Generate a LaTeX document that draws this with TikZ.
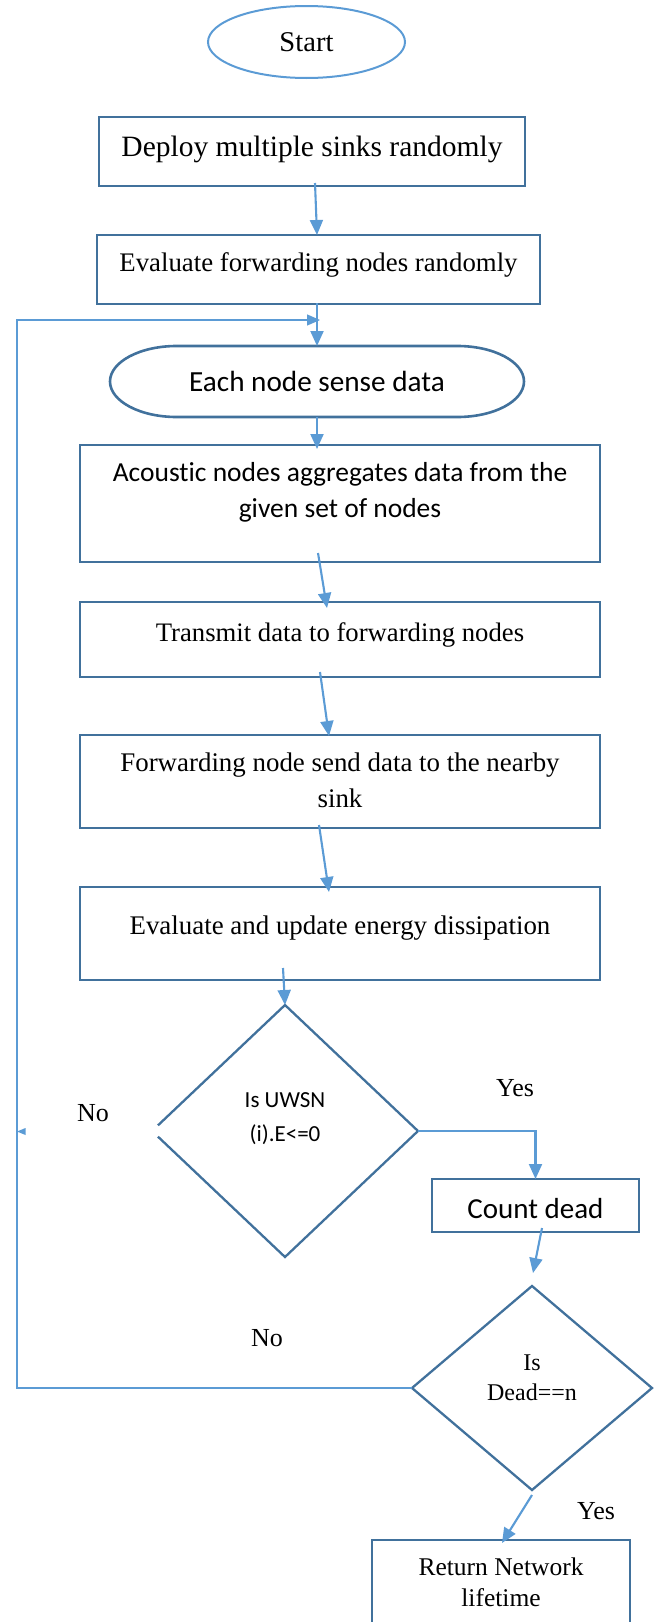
\documentclass[tikz,border=0pt]{standalone}
\usepackage{fontspec}
\setmainfont{Liberation Serif}
\newfontfamily\calfont[Ligatures={NoCommon}]{Carlito}
\usetikzlibrary{arrows.meta,shapes.geometric,calc}
\definecolor{boxblue}{HTML}{41719C}
\definecolor{arrblue}{HTML}{5B9BD5}
\tikzset{
  box/.style={draw=boxblue, line width=2.8pt, inner sep=0pt, outer sep=0pt, align=flush center},
  plainshape/.style={inner sep=0pt, outer sep=0pt, align=flush center},
  outline/.style={draw=boxblue, line width=2.6pt, line join=miter},
  dline/.style={draw=boxblue, line width=2.3pt, line join=miter},
  arr/.style={draw=arrblue, line width=2.1pt, -{Triangle[length=15pt,width=13pt]}},
  thinarr/.style={draw=arrblue, line width=1.3pt, -{Triangle[length=13pt,width=11pt]}},
  lbl/.style={anchor=base, inner sep=0pt, font=\fontsize{26}{30}\selectfont},
}
\begin{document}
\begin{tikzpicture}[x=1pt,y=-1pt]
\useasboundingbox (0,0) rectangle (661,1622);
\clip (0,0) rectangle (661,1622);

% nodes
\node[ellipse, draw=arrblue, line width=2pt, inner sep=0pt, outer sep=0pt,
      minimum width=197, minimum height=72, text height=18.8pt, text depth=0pt,
      font=\fontsize{28.6}{34}\selectfont] (start) at (306.5,42) {Start};

\node[box, minimum width=426, minimum height=69, text height=10.4pt, text depth=0pt,
      font=\fontsize{29.5}{35}\selectfont] (deploy) at (312,151.5) {Deploy multiple sinks randomly};

\node[box, minimum width=443, minimum height=69, text height=4.4pt, text depth=0pt,
      font=\fontsize{26.8}{32}\selectfont] (evalf) at (318.5,269.5) {Evaluate forwarding nodes randomly};

\node[plainshape, minimum width=414, minimum height=71, text height=20.4pt, text depth=0pt,
      font=\calfont\fontsize{29.2}{35}\selectfont] (each) at (317,381.5) {Each node sense data};
\draw[outline] ($(each.north west)+(66.6,0)$) -- ($(each.north east)+(-66.6,0)$)
   arc[start angle=90,end angle=-90,x radius=66.6pt,y radius=35.5pt]
   -- ($(each.south west)+(66.6,0)$)
   arc[start angle=270,end angle=90,x radius=66.6pt,y radius=35.5pt] -- cycle;

\node[box, minimum width=520, minimum height=117, text width=505pt, text height=0pt, text depth=43.6pt,
      font=\calfont\fontsize{27.5}{36}\selectfont] (acoustic) at (340,503.5)
      {Acoustic nodes aggregates data from the\\given set of nodes};

\node[box, minimum width=520, minimum height=75, text height=4.4pt, text depth=0pt,
      font=\fontsize{26.7}{32}\selectfont] (transmit) at (340,639.5) {Transmit data to forwarding nodes};

\node[box, minimum width=520, minimum height=93, text width=505pt, text height=0pt, text depth=21pt,
      font=\fontsize{26.9}{36}\selectfont] (fwd) at (340,781.5)
      {Forwarding node send data to the nearby\\sink};

\node[box, minimum width=520, minimum height=93, text height=1.6pt, text depth=0pt,
      font=\fontsize{26.9}{32}\selectfont] (evalu) at (340,933.5) {Evaluate and update energy dissipation};

\node[diamond, plainshape, minimum width=266, minimum height=252, text width=150pt,
      text height=0pt, text depth=47.4pt,
      font=\calfont\fontsize{23}{34.4}\selectfont] (d1) at (285,1131) {Is UWSN\\(i).E<=0};
\draw[dline] ($(d1.west)!0.045!(d1.north)$) -- (d1.north) -- (d1.east) -- (d1.south)
   -- ($(d1.west)!0.045!(d1.south)$);

\node[box, minimum width=207, minimum height=53, text height=25.6pt, text depth=0pt,
      font=\calfont\fontsize{29}{35}\selectfont] (countdead) at (535.5,1205.5) {Count dead};

\node[diamond, draw=boxblue, line width=2.3pt, plainshape, minimum width=240, minimum height=204,
      text width=130pt, text height=0pt, text depth=36pt,
      font=\fontsize{24}{30.7}\selectfont] (d2) at (532,1388) {Is\\Dead==n};

\node[box, minimum width=258, minimum height=90, text width=240pt, text height=0pt, text depth=20pt,
      font=\fontsize{25.5}{31.7}\selectfont] (ret) at (501,1585) {Return Network\\lifetime};

% labels
\node[lbl] (yes1) at (515,1096) {Yes};
\node[lbl] (no1) at (93,1121.7) {No};
\node[lbl] (no2) at (267,1346.7) {No};
\node[lbl] (yes2) at (596,1519.3) {Yes};

% coordinates for the loop
\coordinate (loopturn) at (17,320);
\coordinate (loopin) at (320,320);

% connectors
\draw[arr] ([xshift=3pt,yshift=3pt]deploy.south) -- ([xshift=-1.5pt]evalf.north);
\draw[arr] ([xshift=-1.5pt,yshift=1pt]evalf.south) -- (each.north);
\draw[arr] (each.south) -- ([xshift=-23pt,yshift=-4pt]acoustic.north);
\draw[arr] ([xshift=-22pt,yshift=9pt]acoustic.south) -- ([xshift=-13pt,yshift=-6pt]transmit.north);
\draw[arr] ([xshift=-20pt,yshift=5pt]transmit.south) -- ([xshift=-11pt,yshift=-1pt]fwd.north);
\draw[arr] ([xshift=-21pt,yshift=3pt]fwd.south) -- ([xshift=-11pt,yshift=-5pt]evalu.north);
\draw[arr] ([xshift=-57pt,yshift=12pt]evalu.south) -- (d1.north);
\draw[arr] (d1.east) -| (countdead.north);
\draw[arr] ([xshift=6.5pt,yshift=4pt]countdead.south) -- ([xshift=1pt,yshift=13pt]d2.north);
\draw[arr] ([yshift=-5pt]d2.south) -- ([xshift=1pt,yshift=-3pt]ret.north);

\draw[thinarr] (d2.west) -| (loopturn) -- (loopin);
\fill[arrblue] (17,1131.5) -- (25.5,1128) -- (25.5,1135) -- cycle;
\end{tikzpicture}
\end{document}
